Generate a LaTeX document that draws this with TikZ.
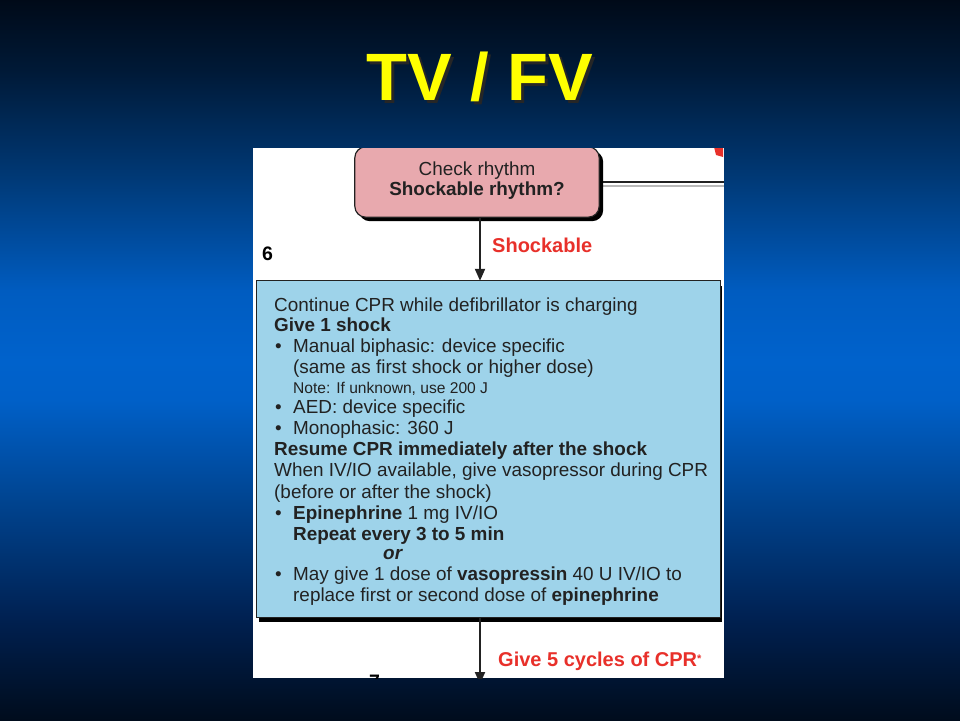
\documentclass[tikz,border=0pt]{standalone}
\usepackage{fontspec}
\setmainfont{Liberation Sans}
\usetikzlibrary{arrows.meta}
\definecolor{bg0}{HTML}{000A18}
\definecolor{bg1}{HTML}{001A38}
\definecolor{bg2}{HTML}{003A78}
\definecolor{bg3}{HTML}{005CC0}
\definecolor{bg4}{HTML}{0062CC}
\definecolor{bg5}{HTML}{0060C8}
\definecolor{bg6}{HTML}{004490}
\definecolor{bg7}{HTML}{002050}
\definecolor{bg8}{HTML}{000C1C}
\definecolor{pinkc}{HTML}{E8A9AE}
\definecolor{bluec}{HTML}{9ED3EA}
\definecolor{redc}{HTML}{E8302A}
\definecolor{txtc}{HTML}{222222}
\definecolor{linec}{HTML}{222222}
\definecolor{titlec}{HTML}{FFFF00}
\begin{document}
\begin{tikzpicture}[x=1pt,y=-1pt,
  body/.style={anchor=base west, inner sep=0pt, text=txtc, font=\fontsize{18.9}{21}\selectfont},
  notetxt/.style={body, font=\fontsize{15.6}{18}\selectfont},
  redlbl/.style={anchor=base west, inner sep=0pt, text=redc, font=\bfseries\fontsize{20}{22}\selectfont},
  numlbl/.style={anchor=base west, inner sep=0pt, text=black, font=\bfseries\fontsize{19.5}{22}\selectfont},
  arr/.style={line width=2pt, draw=linec, -{Triangle[length=12pt,width=10pt]}}
]
\newcommand{\bl}{\makebox[18pt][l]{\textbullet}}
% background
\useasboundingbox (0,0) rectangle (960,720);
\shade[top color=bg0, bottom color=bg1] (0,-1) rectangle (960,73);
\shade[top color=bg1, bottom color=bg2] (0,72) rectangle (960,181);
\shade[top color=bg2, bottom color=bg3] (0,180) rectangle (960,291);
\shade[top color=bg3, bottom color=bg4] (0,290) rectangle (960,361);
\shade[top color=bg4, bottom color=bg5] (0,360) rectangle (960,401);
\shade[top color=bg5, bottom color=bg6] (0,400) rectangle (960,501);
\shade[top color=bg6, bottom color=bg7] (0,500) rectangle (960,621);
\shade[top color=bg7, bottom color=bg8] (0,620) rectangle (960,721);
% title with drop shadow (one node)
\node[anchor=base, inner sep=0pt, text=titlec, font=\bfseries\fontsize{67}{70}\selectfont] (title) at (480,100)
  {\makebox[0pt][l]{\hspace{3pt}\raisebox{-3pt}{\textcolor{black!85}{TV / FV}}}TV / FV};
% panel
\fill[white] (253,148) rectangle (724,678);
\coordinate (pr) at (724,0);
\coordinate (ax) at (480,0);
\coordinate (ls) at (0,186);
\begin{scope}
\clip (253,148) rectangle (724,678);
\fill[redc] (714,147) -- (723,147) -- (723,157) -- (716,155) -- cycle;
% pink box
\node[minimum width=244pt, minimum height=70pt, inner sep=0pt] (pink) at (477,182) {};
\draw[gray!55, line width=1.5pt] (pink.east |- ls) -- (pr |- ls);
\draw[linec, line width=2pt] (pink.east) -- (pink.east -| pr);
\fill[black, rounded corners=11pt] ([shift={(4,4)}]pink.north west) rectangle ([shift={(4,4)}]pink.south east);
\draw[draw=txtc, line width=1.2pt, fill=pinkc, rounded corners=11pt] (pink.north west) rectangle (pink.south east);
\node[inner sep=0pt, align=center, text=txtc, font=\fontsize{18.9}{20}\selectfont] (pinktxt) at (477,181) {Check rhythm\\\textbf{Shockable rhythm?}};
% blue box
\node[minimum width=463pt, minimum height=336pt, inner sep=0pt] (blue) at (488.5,449) {};
\fill[black] ([shift={(2,5)}]blue.north west) rectangle ([shift={(2,5)}]blue.south east);
\draw[draw=txtc, line width=1.2pt, fill=bluec] (blue.north west) rectangle (blue.south east);
% arrows
\draw[arr] (ax |- pink.south) -- (ax |- blue.north);
\coordinate (bend) at (480,684);
\draw[arr] (ax |- blue.south) -- (bend);
% labels
\node[redlbl] (shk) at (492,252) {Shockable};
\node[numlbl] (six) at (262,260) {6};
\node[redlbl] (give5) at (498,666) {Give 5 cycles of CPR\raisebox{4pt}{\fontsize{11}{12}\selectfont *}};
\node[numlbl] (seven) at (369,688) {7};
% text in blue box
\node[body] (l1) at (274,311) {Continue CPR while defibrillator is charging};
\node[body] (l2) at (274,331) {\textbf{Give 1 shock}};
\node[body] (l3) at (275,352) {\bl Manual biphasic: device specific};
\node[body] (l4) at (293,373) {(same as first shock or higher dose)};
\node[notetxt] (l5) at (293,393) {Note: If unknown, use 200 J};
\node[body] (l6) at (275,413) {\bl AED: device specific};
\node[body] (l7) at (275,434) {\bl Monophasic: 360 J};
\node[body] (l8) at (274,455) {\textbf{Resume CPR immediately after the shock}};
\node[body] (l9) at (274,476) {When IV/IO available, give vasopressor during CPR};
\node[body] (l10) at (274,498) {(before or after the shock)};
\node[body] (l11) at (275,519) {\bl\textbf{Epinephrine} 1 mg IV/IO};
\node[body] (l12) at (293,540) {\textbf{Repeat every 3 to 5 min}};
\node[body] (l13) at (383,559) {\textbf{\textit{or}}};
\node[body] (l14) at (275,580) {\bl May give 1 dose of \textbf{vasopressin} 40 U IV/IO to};
\node[body] (l15) at (293,601) {replace first or second dose of \textbf{epinephrine}};
\end{scope}
\end{tikzpicture}
\end{document}
